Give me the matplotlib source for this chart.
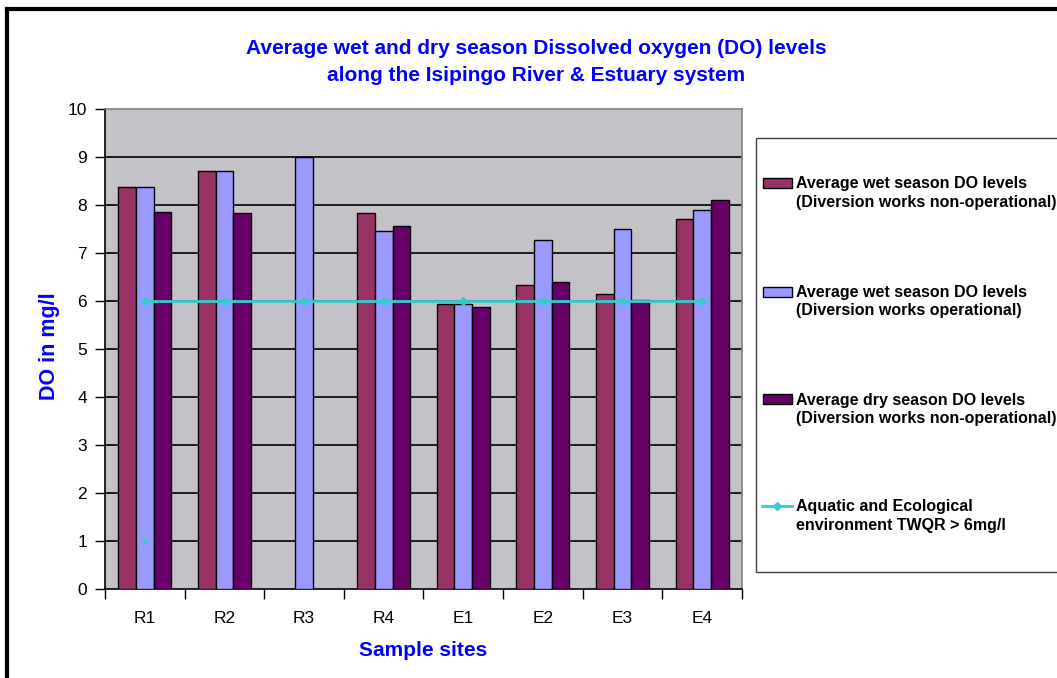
import matplotlib.pyplot as plt
import numpy as np
from matplotlib.patches import Rectangle
from matplotlib.lines import Line2D

plt.rcParams['font.family'] = ['Liberation Sans', 'DejaVu Sans']

# sample sites and DO readings (mg/l)
sites = ['R1', 'R2', 'R3', 'R4', 'E1', 'E2', 'E3', 'E4']
wet_nonop = [8.38, 8.71, np.nan, 7.83, 5.94, 6.34, 6.15, 7.70]
wet_op = [8.38, 8.71, 9.00, 7.46, 5.94, 7.27, 7.49, 7.89]
dry_nonop = [7.85, 7.84, np.nan, 7.56, 5.87, 6.39, 6.02, 8.10]
twqr = [6, 6, 6, 6, 6, 6, 6, 6]
stray = [1]  # lone point plotted at R1

labels = ['Average wet season DO levels\n(Diversion works non-operational)',
          'Average wet season DO levels\n(Diversion works operational)',
          'Average dry season DO levels\n(Diversion works non-operational)',
          'Aquatic and Ecological\nenvironment TWQR > 6mg/l']
colors = ['#993366', '#9999FF', '#660066']
line_col = '#33CCCC'
blue = '#0000FF'

W, H = 1057, 678
fig = plt.figure(figsize=(W / 100, H / 100), dpi=100)
ax = fig.add_axes([105 / W, 1 - 589 / H, (742 - 105) / W, (589 - 109) / H])
ax.set_facecolor('#C4C2C6')

x = np.arange(len(sites))
w = 0.222
for k, vals in enumerate([wet_nonop, wet_op, dry_nonop]):
    ax.bar(x + (k - 1) * w, vals, width=w, color=colors[k],
           edgecolor='black', linewidth=1.0, zorder=3)

ax.plot(x, twqr, color=line_col, lw=2, marker='D', ms=4, zorder=4)
ax.plot(x[:1], stray, color=line_col, lw=0, marker='x', ms=5, mew=1, zorder=4)

ax.set_xlim(-0.5, len(sites) - 0.5)
ax.set_ylim(0, 10)
ax.set_yticks(range(0, 11))
for yv in range(1, 10):
    ax.axhline(yv, color='black', lw=1.2, zorder=1)

ax.set_xticks(x)
ax.set_xticklabels(sites, fontsize=12.5)
ax.set_xticks(np.arange(-0.5, len(sites)), minor=True)
ax.tick_params(axis='x', which='major', length=0, pad=16)
ax.tick_params(axis='x', which='minor', length=7, direction='out', width=1)
ax.tick_params(axis='y', length=7, direction='out', width=1, labelsize=12.5, pad=6)

for s in ['top', 'right']:
    ax.spines[s].set_color('#808080')
    ax.spines[s].set_linewidth(1.2)
for s in ['left', 'bottom']:
    ax.spines[s].set_color('black')
    ax.spines[s].set_linewidth(1.2)

fig.text(536 / W, 1 - 62 / H,
         'Average wet and dry season Dissolved oxygen (DO) levels\n'
         'along the Isipingo River & Estuary system',
         ha='center', va='center', color=blue, fontsize=15,
         fontweight='bold', linespacing=1.5)
fig.text(423 / W, 1 - 651 / H, 'Sample sites', ha='center', va='center',
         color=blue, fontsize=15, fontweight='bold')
fig.text(50 / W, 1 - 346 / H, 'DO in mg/l', ha='center', va='center',
         rotation=90, color=blue, fontsize=15.5, fontweight='bold')

# outer chart border (left and top edges)
fig.add_artist(Line2D([6.5 / W, 6.5 / W], [0, 1 - 9 / H], color='black', lw=3))
fig.add_artist(Line2D([6.5 / W, 1], [1 - 9 / H, 1 - 9 / H], color='black', lw=3))

# legend box
fig.add_artist(Rectangle((756 / W, 1 - 572 / H), 320 / W, (572 - 138) / H,
                         transform=fig.transFigure, facecolor='white',
                         edgecolor='#404040', lw=1))
rows = [183, 291.5, 399.5, 506]
for k, (lab, yy) in enumerate(zip(labels, rows)):
    yf = 1 - yy / H
    if k < 3:
        fig.add_artist(Rectangle((763 / W, 1 - (yy + 5) / H), 29 / W, 10 / H,
                                 transform=fig.transFigure,
                                 facecolor=colors[k], edgecolor='black', lw=1))
    else:
        fig.add_artist(Line2D([762 / W, 792 / W], [yf, yf], color=line_col, lw=2))
        fig.add_artist(Line2D([777 / W], [yf], color=line_col, marker='D', ms=4))
    fig.text(796 / W, 1 - (yy - 7) / H, lab, ha='left', va='top',
             fontsize=11.5, fontweight='bold', linespacing=1.3)

fig.savefig('out.png', dpi=100)
